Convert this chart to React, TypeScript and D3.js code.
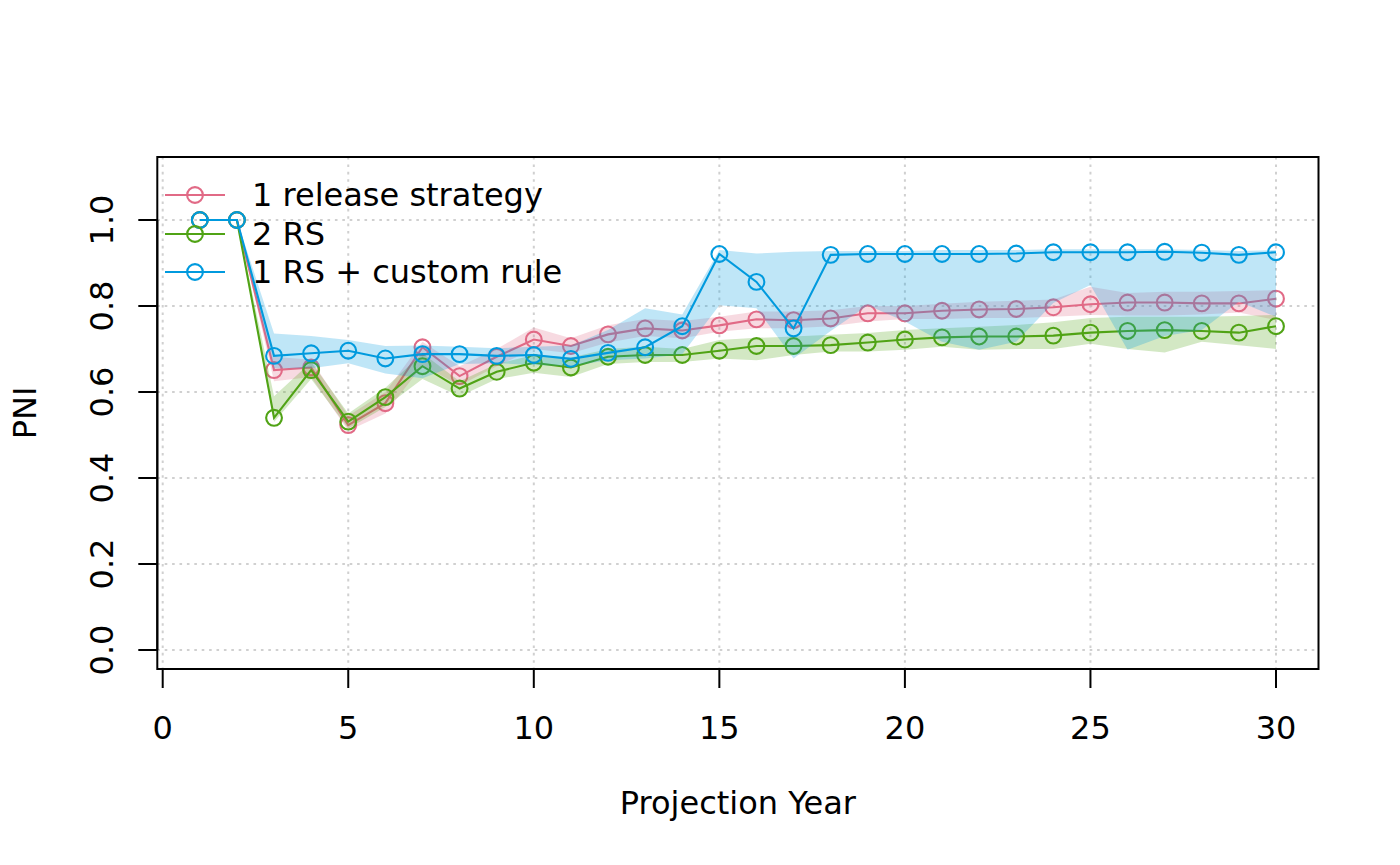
import React from "react";
import * as d3 from "d3";

const years = d3.range(1, 31);

const seriesNames = ["1 release strategy", "2 RS", "1 RS + custom rule"];
const seriesColors = ["#E16A86", "#50A315", "#009ADE"];

const pinkMean = [1, 1, 0.651, 0.657, 0.523, 0.574, 0.704, 0.637, 0.682, 0.722, 0.707, 0.734, 0.748, 0.743, 0.755, 0.769, 0.767, 0.771, 0.783, 0.783, 0.789, 0.792, 0.793, 0.797, 0.804, 0.808, 0.808, 0.806, 0.806, 0.817];
const pinkLow = [1, 1, 0.625, 0.635, 0.51, 0.55, 0.662, 0.615, 0.66, 0.7, 0.69, 0.715, 0.73, 0.725, 0.74, 0.748, 0.748, 0.753, 0.764, 0.77, 0.77, 0.772, 0.772, 0.775, 0.779, 0.778, 0.778, 0.78, 0.785, 0.767];
const pinkHigh = [1, 1, 0.682, 0.675, 0.545, 0.6, 0.717, 0.66, 0.7, 0.75, 0.725, 0.755, 0.77, 0.765, 0.775, 0.787, 0.787, 0.79, 0.8, 0.8, 0.805, 0.81, 0.812, 0.815, 0.845, 0.83, 0.833, 0.833, 0.835, 0.837];

const greenMean = [1, 1, 0.54, 0.651, 0.531, 0.588, 0.66, 0.608, 0.647, 0.668, 0.657, 0.682, 0.686, 0.686, 0.696, 0.707, 0.707, 0.709, 0.715, 0.722, 0.727, 0.729, 0.729, 0.731, 0.738, 0.742, 0.744, 0.742, 0.738, 0.753];
const greenLow = [1, 1, 0.53, 0.63, 0.515, 0.565, 0.63, 0.59, 0.63, 0.645, 0.635, 0.665, 0.67, 0.67, 0.678, 0.674, 0.686, 0.694, 0.694, 0.698, 0.705, 0.698, 0.7, 0.7, 0.712, 0.7, 0.692, 0.717, 0.709, 0.7];
const greenHigh = [1, 1, 0.59, 0.67, 0.55, 0.61, 0.69, 0.625, 0.665, 0.686, 0.68, 0.7, 0.705, 0.7, 0.721, 0.726, 0.729, 0.733, 0.737, 0.744, 0.748, 0.752, 0.756, 0.762, 0.772, 0.775, 0.775, 0.775, 0.777, 0.779];

const blueMean = [1, 1, 0.684, 0.69, 0.696, 0.678, 0.688, 0.688, 0.684, 0.686, 0.677, 0.691, 0.704, 0.753, 0.921, 0.856, 0.748, 0.919, 0.921, 0.921, 0.921, 0.921, 0.922, 0.925, 0.925, 0.925, 0.926, 0.924, 0.919, 0.925];
const blueLow = [1, 1, 0.655, 0.655, 0.667, 0.643, 0.632, 0.665, 0.667, 0.663, 0.66, 0.674, 0.678, 0.688, 0.802, 0.795, 0.678, 0.742, 0.802, 0.764, 0.717, 0.698, 0.717, 0.807, 0.849, 0.698, 0.73, 0.744, 0.81, 0.775];
const blueHigh = [1, 1, 0.736, 0.73, 0.721, 0.707, 0.708, 0.705, 0.702, 0.705, 0.708, 0.744, 0.795, 0.78, 0.93, 0.922, 0.926, 0.928, 0.928, 0.928, 0.93, 0.93, 0.93, 0.932, 0.932, 0.932, 0.932, 0.93, 0.928, 0.93];

const xTicks = [0, 5, 10, 15, 20, 25, 30];
const yTicks = [0, 0.2, 0.4, 0.6, 0.8, 1.0];

const xTitle = "Projection Year";
const yTitle = "PNI";

const W = 1400;
const H = 865;
const box = { left: 157.3, right: 1318.5, top: 157, bottom: 669 };
const FONT = "'DejaVu Sans', sans-serif";
const FS = 32;

export default function App() {
  const x = d3.scaleLinear().domain([0, 30]).range([162.7, 1276]);
  const y = d3.scaleLinear().domain([0, 1]).range([650, 220]);

  const series = [
    { mean: pinkMean, low: pinkLow, high: pinkHigh },
    { mean: greenMean, low: greenLow, high: greenHigh },
    { mean: blueMean, low: blueLow, high: blueHigh },
  ];

  const line = d3
    .line<number>()
    .x((_, i) => x(years[i]))
    .y((d) => y(d));

  const areaFor = (low: number[], high: number[]) =>
    d3
      .area<number>()
      .x((_, i) => x(years[i]))
      .y0((_, i) => y(low[i]))
      .y1((_, i) => y(high[i]))(years.map((v) => v)) || "";

  const fmtY = d3.format(".1f");
  const legendRows = [195, 234, 272];

  return (
    <svg width={W} height={H} style={{ display: "block", position: "absolute", left: 0, top: 0 }}>
      <rect x={0} y={0} width={W} height={H} fill="white" />
      {/* grid */}
      <g stroke="#D0D0D0" strokeWidth={2} strokeDasharray="2.6,4.8">
        {xTicks.map((t) => (
          <line key={"gx" + t} x1={x(t)} x2={x(t)} y1={box.top} y2={box.bottom} />
        ))}
        {yTicks.map((t) => (
          <line key={"gy" + t} x1={box.left} x2={box.right} y1={y(t)} y2={y(t)} />
        ))}
      </g>
      {/* series */}
      {series.map((s, k) => (
        <g key={"s" + k}>
          <path d={areaFor(s.low, s.high)} fill={seriesColors[k]} fillOpacity={0.25} stroke="none" />
          <path d={line(s.mean) || ""} fill="none" stroke={seriesColors[k]} strokeWidth={2.1} />
          {s.mean.map((v, i) => (
            <circle key={i} cx={x(years[i])} cy={y(v)} r={7.9} fill="none" stroke={seriesColors[k]} strokeWidth={2.1} />
          ))}
        </g>
      ))}
      {/* box */}
      <rect x={box.left} y={box.top} width={box.right - box.left} height={box.bottom - box.top} fill="none" stroke="black" strokeWidth={2} />
      {/* x axis */}
      <g>
        <line x1={x(0)} x2={x(30)} y1={box.bottom} y2={box.bottom} stroke="black" strokeWidth={2} />
        {xTicks.map((t) => (
          <g key={"xt" + t}>
            <line x1={x(t)} x2={x(t)} y1={box.bottom} y2={box.bottom + 19} stroke="black" strokeWidth={2} />
            <text x={x(t)} y={739} textAnchor="middle" fontFamily={FONT} fontSize={FS} fill="black">
              {t}
            </text>
          </g>
        ))}
      </g>
      {/* y axis */}
      <g>
        <line x1={box.left} x2={box.left} y1={y(0)} y2={y(1)} stroke="black" strokeWidth={2} />
        {yTicks.map((t) => (
          <g key={"yt" + t}>
            <line x1={box.left - 19} x2={box.left} y1={y(t)} y2={y(t)} stroke="black" strokeWidth={2} />
            <text
              transform={`translate(${113},${y(t)}) rotate(-90)`}
              textAnchor="middle"
              fontFamily={FONT}
              fontSize={FS}
              fill="black"
            >
              {fmtY(t)}
            </text>
          </g>
        ))}
      </g>
      {/* titles */}
      <text x={(box.left + box.right) / 2} y={814} textAnchor="middle" fontFamily={FONT} fontSize={FS} fill="black">
        {xTitle}
      </text>
      <text
        transform={`translate(${36},${(box.top + box.bottom) / 2}) rotate(-90)`}
        textAnchor="middle"
        fontFamily={FONT}
        fontSize={FS}
        fill="black"
      >
        {yTitle}
      </text>
      {/* legend */}
      {seriesNames.map((n, k) => (
        <g key={"lg" + k}>
          <line x1={165} x2={225} y1={legendRows[k]} y2={legendRows[k]} stroke={seriesColors[k]} strokeWidth={2.1} />
          <circle cx={195} cy={legendRows[k]} r={7.9} fill="none" stroke={seriesColors[k]} strokeWidth={2.1} />
          <text x={252} y={legendRows[k] + 11} fontFamily={FONT} fontSize={FS} fill="black">
            {n}
          </text>
        </g>
      ))}
    </svg>
  );
}
